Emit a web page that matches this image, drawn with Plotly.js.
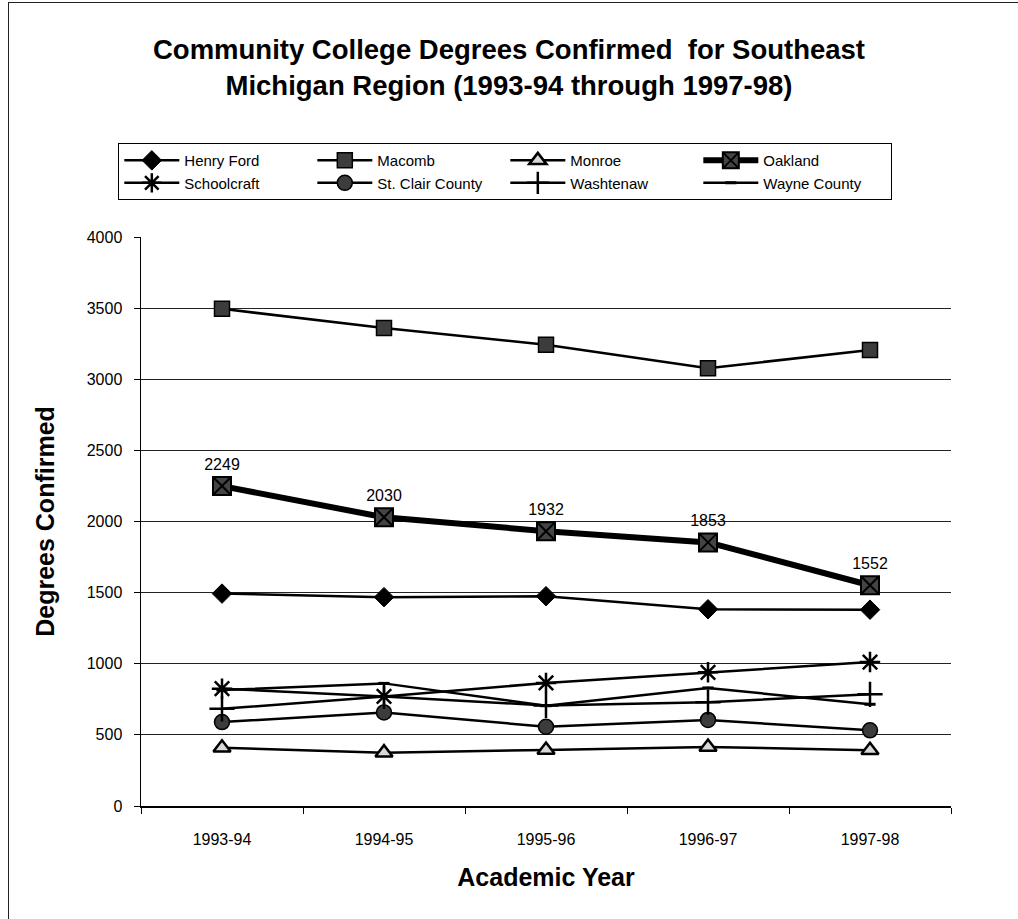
<!DOCTYPE html>
<html>
<head>
<meta charset="utf-8">
<script src="https://cdn.plot.ly/plotly-3.0.1.min.js"></script>
<style>
  body { margin: 0; background: #fff; }
  #wrap { position: relative; width: 1018px; height: 919px; }
  #chart { width: 1018px; height: 919px; }
  #frame { position: absolute; left: 8px; top: 2px; width: 1030px; height: 940px;
           border-left: 1.5px solid #222; border-top: 1.5px solid #222; pointer-events: none; }
</style>
</head>
<body>
<div id="wrap">
  <div id="chart"></div>
  <div id="frame"></div>
</div>
<script>
// Categories
const years = ["1993-94", "1994-95", "1995-96", "1996-97", "1997-98"];

// Series values
const henryFord   = [1493, 1468, 1475, 1383, 1380];
const macomb      = [3495, 3360, 3243, 3078, 3205];
const monroe      = [410, 375, 394, 415, 392];
const oakland     = [2249, 2030, 1932, 1853, 1552];
const schoolcraft = [825, 770, 865, 940, 1012];
const stClair     = [590, 658, 557, 605, 532];
const washtenaw   = [683, 770, 707, 730, 785];
const wayne       = [815, 862, 705, 830, 715];

// Data labels for Oakland
const oaklandLabels = oakland.map(String);

const FONT = '"Liberation Sans", Arial, sans-serif';

function series(name, y, symbol, opts) {
  opts = opts || {};
  return {
    type: 'scatter',
    mode: opts.mode || 'lines+markers',
    name: name,
    x: years,
    y: y,
    text: opts.text,
    textposition: 'top center',
    textfont: { family: FONT, size: 16, color: '#000' },
    line: { color: '#000', width: opts.lw || 2.5 },
    marker: {
      symbol: symbol,
      size: opts.size || 13,
      color: opts.fill || '#000',
      line: { color: '#000', width: opts.mlw == null ? 1 : opts.mlw }
    },
    hoverinfo: 'x+y+name'
  };
}

const data = [
  series('Henry Ford', henryFord, 'diamond', { size: 15 }),
  series('Macomb', macomb, 'square', { size: 15, fill: '#3c3c3c', mlw: 1.5 }),
  series('Monroe', monroe, 'triangle-up', { size: 15, fill: '#d8d8d8', mlw: 2.5 }),
  series('Oakland', oakland, 'square-x', { size: 18, fill: '#444', mlw: 2, lw: 6,
                                           mode: 'lines+markers+text', text: oaklandLabels }),
  series('Schoolcraft', schoolcraft, 'asterisk-open', { size: 17, mlw: 2.5 }),
  series('St. Clair County', stClair, 'circle', { size: 15, fill: '#3c3c3c', mlw: 1.5 }),
  series('Washtenaw', washtenaw, 'cross-thin-open', { size: 18, mlw: 2.5 }),
  series('Wayne County', wayne, 'line-ew-open', { size: 8, mlw: 3 })
];

const layout = {
  width: 1018,
  height: 919,
  paper_bgcolor: '#fff',
  plot_bgcolor: '#fff',
  font: { family: FONT, color: '#000', size: 16 },
  margin: { l: 141, r: 67, t: 237, b: 113 },
  title: {
    text: 'Community College Degrees Confirmed  for Southeast<br>Michigan Region (1993-94 through 1997-98)',
    font: { family: FONT, size: 27.5, color: '#000', weight: 'bold' },
    x: 0.5, xanchor: 'center',
    yref: 'container',
    y: 0.9357, yanchor: 'middle'
  },
  showlegend: true,
  legend: {
    orientation: 'h',
    x: -0.028, xanchor: 'left',
    y: 1.165, yanchor: 'top',
    bordercolor: '#000',
    borderwidth: 1,
    bgcolor: '#fff',
    font: { family: FONT, size: 15, color: '#000' },
    entrywidth: 123,
    entrywidthmode: 'pixels',
    itemwidth: 55,
    traceorder: 'normal'
  },
  xaxis: {
    type: 'category',
    range: [-0.5, 4.5],
    tickson: 'boundaries',
    ticks: 'outside',
    ticklen: 6,
    tickcolor: '#000',
    showline: true,
    linecolor: '#000',
    linewidth: 1.5,
    showgrid: false,
    zeroline: false,
    ticklabelstandoff: 18,
    tickfont: { family: FONT, size: 16, color: '#000' },
    title: { text: 'Academic Year', font: { family: FONT, size: 25, color: '#000', weight: 'bold' }, standoff: 22 }
  },
  yaxis: {
    range: [0, 4000],
    dtick: 500,
    tick0: 0,
    ticks: 'outside',
    ticklen: 6,
    tickcolor: '#000',
    showline: true,
    linecolor: '#000',
    linewidth: 1.5,
    showgrid: true,
    gridcolor: '#222',
    gridwidth: 1,
    zeroline: false,
    ticklabelstandoff: 8,
    tickfont: { family: FONT, size: 16, color: '#000' },
    title: { text: 'Degrees Confirmed', font: { family: FONT, size: 25, color: '#000', weight: 'bold' }, standoff: 25 }
  }
};

Plotly.newPlot('chart', data, layout, { displayModeBar: false, staticPlot: true });
</script>
</body>
</html>
